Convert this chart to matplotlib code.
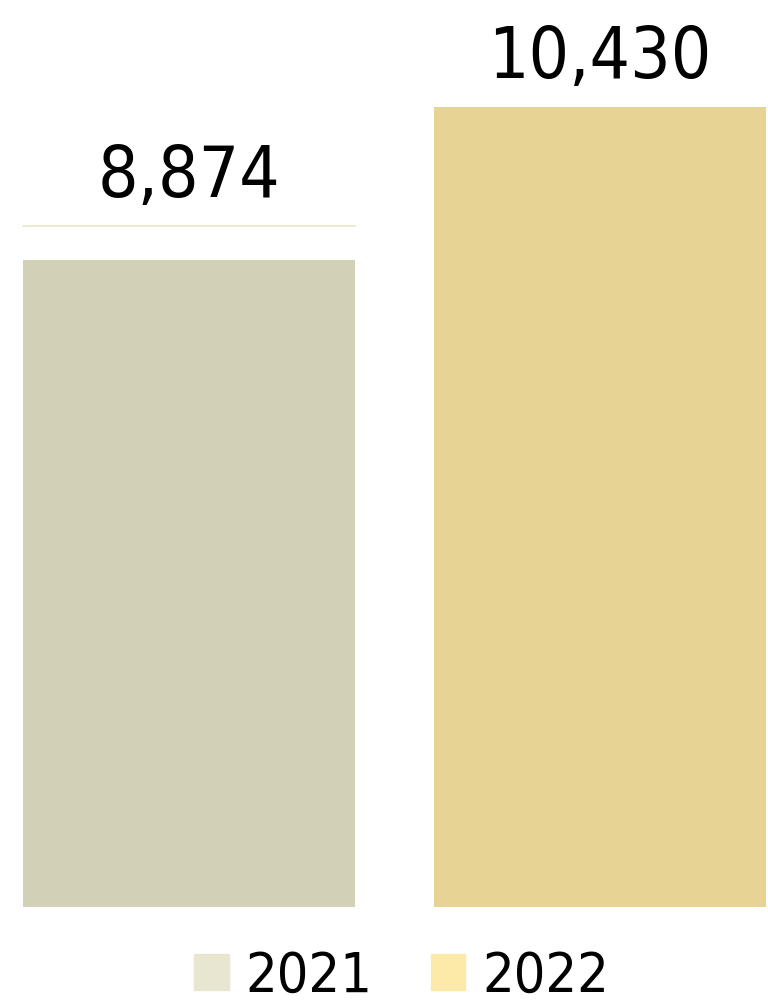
import matplotlib
matplotlib.use("Agg")
import matplotlib.pyplot as plt
from matplotlib.patches import Patch

years = ["2021", "2022"]
values = [8874, 10430]
bar_colors = ["#D3D0B8", "#E7D393"]
legend_colors = ["#E8E5D0", "#FDEAA8"]

plt.rcParams['font.family'] = ['DejaVu Sans']

fig = plt.figure(figsize=(7.68, 10.06), dpi=100)
ax = fig.add_axes([0, 99 / 1006, 1, 907 / 1006])

x = range(len(years))
w = 0.808
# soft shadow under each bar
ax.bar(x, values, width=w, bottom=-70, color="#000000", alpha=0.07, zorder=1)
bars = ax.bar(x, values, width=w, color=bar_colors, zorder=2)

# the 2021 bar in the source has a white gap under its top edge
ax.bar(0, 440, width=w + 0.01, bottom=values[0] - 440, color="white", zorder=3)
ax.plot([-w / 2, w / 2], [values[0], values[0]], color="#EAE6CC", lw=1.2, zorder=4)

for xi, v in zip(x, values):
    ax.annotate(f"{v:,}", (xi, v), xytext=(0, 10), textcoords="offset points",
                ha="center", va="bottom", fontsize=51, fontstretch="condensed")

ax.set_xlim(-0.46, 1.409)
ax.set_ylim(0, 11825)
ax.axis("off")

handles = [Patch(color=c, label=l) for c, l in zip(legend_colors, years)]
fig.legend(handles=handles, loc="lower center", bbox_to_anchor=(0.523, -0.047), ncol=2,
           frameon=False, prop={"size": 40, "stretch": "condensed"},
           handlelength=0.62, handleheight=0.62,
           handletextpad=0.3, columnspacing=1.05)

fig.savefig("out.png", dpi=100)
